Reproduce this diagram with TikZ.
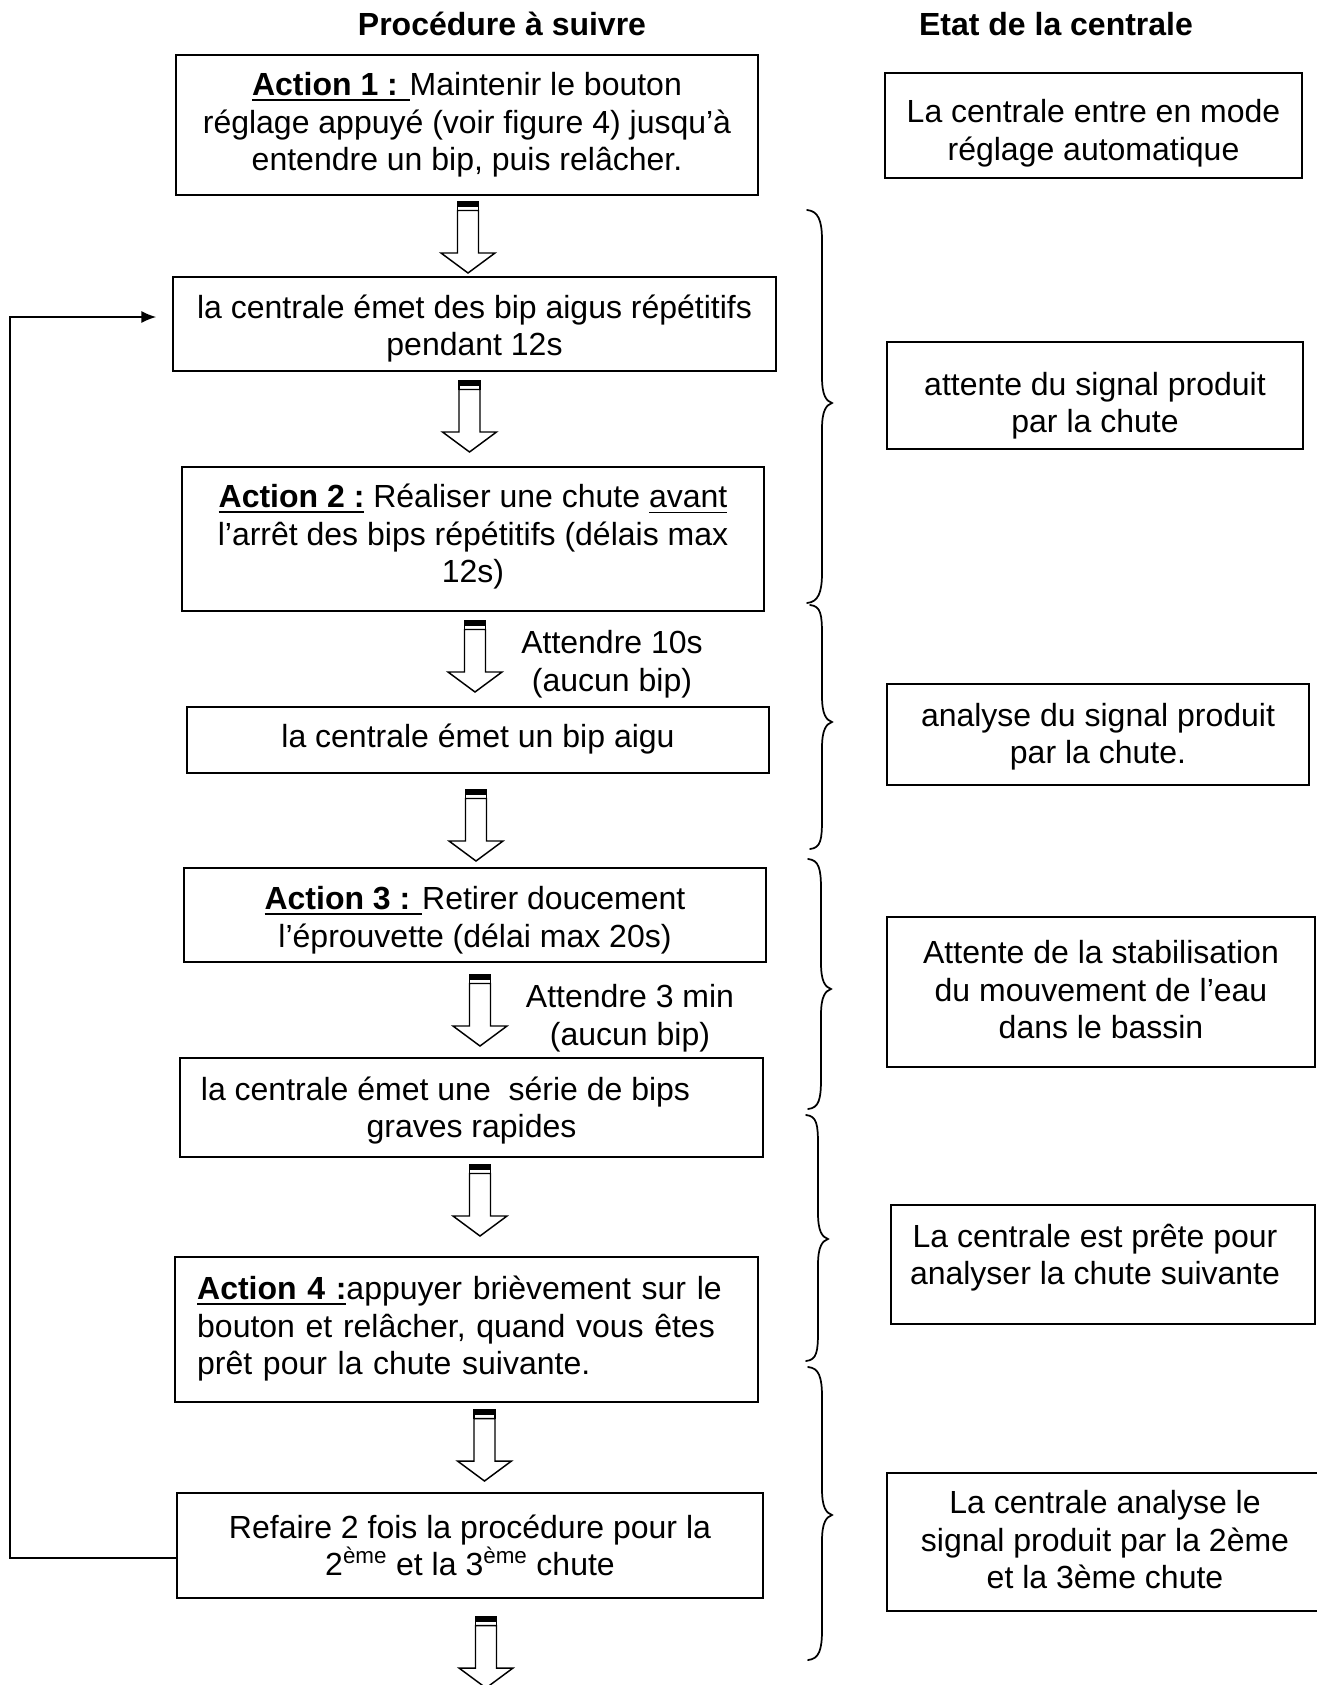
\documentclass[tikz,border=0pt]{standalone}
\usepackage{fontspec}
\setmainfont{Liberation Sans}
\usetikzlibrary{arrows.meta,calc}
\newcommand\myul[2][1.7pt]{\setbox0\hbox{#2}\rlap{\rule[-4.2pt]{\wd0}{#1}}\box0\relax}
\tikzset{
  basefont/.style={font=\fontsize{24}{28.2}\selectfont},
  box/.style={draw, line width=1.3pt, inner sep=0pt, align=center, basefont,
    execute at begin node=\strut, execute at end node=\strut},
  bl/.style={text height=#1, text depth=0pt},
  txt/.style={inner sep=0pt, align=center, basefont,
    execute at begin node=\strut, execute at end node=\strut},
  head/.style={inner sep=0pt, font=\fontsize{24}{28.2}\selectfont\bfseries},
  bracepath/.style={line width=1.3pt, line cap=round},
  looparrow/.style={line width=1.1pt, -{Latex[length=11pt,width=9pt]}},
  pics/blockarrow/.style={code={
    \fill (-10.5,0) rectangle (10.5,4.5);
    \draw[line width=1pt] (-10.5,0) rectangle (10.5,8.5);
    \draw[line width=1.1pt, line join=miter] (-10.5,8.5) -- (-10.5,51) -- (-27,51) -- (0,71)
      -- (27,51) -- (10.5,51) -- (10.5,8.5) -- cycle;
  }}
}
\newcommand\drawbrace[5]{% x0, x1, top, tip, bottom
  \draw[bracepath] (#1,#3) .. controls (#1+11,#3+1) and (#2,#3+10) .. (#2,#3+30)
    -- (#2,#4-26) .. controls (#2,#4-8) and (#2+4,#4-2) .. (#2+10,#4)
    .. controls (#2+4,#4+2) and (#2,#4+8) .. (#2,#4+26)
    -- (#2,#5-30) .. controls (#2,#5-10) and (#1+11,#5-1) .. (#1,#5);}
\begin{document}
\begin{tikzpicture}[x=0.75pt,y=-0.75pt]
\useasboundingbox (0,0) rectangle (1317,1685);
\clip (0,0) rectangle (1317,1685);

% headers
\node[head] (h1) at (502,24) {Procédure à suivre};
\node[head] (h2) at (1056,24) {Etat de la centrale};

% left column
\node[box, bl=68.7pt, minimum width=436.5pt, minimum height=105pt] (b1) at (467,125)
  {\myul{\textbf{Action 1 :} }Maintenir le bouton\\réglage appuyé (voir figure 4) jusqu’à\\entendre un bip, puis relâcher.};
\node[box, bl=47.4pt, minimum width=452.25pt, minimum height=70.5pt] (b2) at (474.5,324)
  {la centrale émet des bip aigus répétitifs\\pendant 12s};
\node[box, minimum width=436.5pt, minimum height=108pt] (b3) at (473,539)
  {\myul{\textbf{Action 2 :}} Réaliser une chute \myul[1.1pt]{avant}\\l’arrêt des bips répétitifs (délais max\\12s)};
\node[box, minimum width=436.5pt, minimum height=49.5pt] (b4) at (478,740)
  {la centrale émet un bip aigu};
\node[box, bl=48.6pt, minimum width=436.5pt, minimum height=70.5pt] (b5) at (475,915)
  {\myul{\textbf{Action 3 :} }Retirer doucement\\l’éprouvette (délai max 20s)};
\node[box, bl=45.2pt, minimum width=437.25pt, minimum height=74.25pt] (b6) at (471.5,1107.5)
  {la centrale émet une \ série de bips\hspace*{39pt}\mbox{}\\graves rapides};
\node[box, minimum width=437.25pt, minimum height=108.75pt, text width=404pt, align=left] (b7) at (466.5,1329.5)
  {\myul{\textbf{Action 4 :}}appuyer brièvement sur le\\bouton et relâcher, quand vous êtes\\prêt pour la chute suivante.};
\node[box, bl=45.6pt, minimum width=439.5pt, minimum height=78.75pt] (b8) at (470,1545.5)
  {Refaire 2 fois la procédure pour la\\2\textsuperscript{ème} et la 3\textsuperscript{ème} chute};

% waiting labels
\node[txt] (t1) at (612,666.4) {Attendre 10s\\(aucun bip)};
\node[txt] (t2) at (630,1020.5) {Attendre 3 min\\(aucun bip)};

% block arrows
\pic at (468,202) {blockarrow};
\pic at (469.5,381) {blockarrow};
\pic at (475,621) {blockarrow};
\pic at (476,790) {blockarrow};
\pic at (480,975) {blockarrow};
\pic at (480,1165) {blockarrow};
\pic at (484.5,1410) {blockarrow};
\pic at (486,1617) {blockarrow};

% loop back
\draw[looparrow] ($(b8.west)+(0,12.5)$) -- ++(-166,0) |- ($(b2.west)+(-16,-7)$);

% right column
\node[box, bl=51.9pt, minimum width=312.75pt, minimum height=78.75pt] (r1) at (1093.5,125.5) {La centrale entre en mode\\réglage automatique};
\node[box, bl=56.1pt, minimum width=312pt, minimum height=80.25pt] (r2) at (1095,395.5) {attente du signal produit\\par la chute};
\node[box, bl=44pt, minimum width=316.5pt, minimum height=75.75pt] (r3) at (1098,734.5) {analyse du signal produit\\par la chute.};
\node[box, bl=70.2pt, minimum width=321pt, minimum height=112.5pt] (r4) at (1101,992) {Attente de la stabilisation\\du mouvement de l’eau\\dans le bassin};
\node[draw, line width=1.3pt, inner sep=0pt, minimum width=318pt, minimum height=89.25pt] (r5) at (1103,1264.5) {};
\node[txt] (r5t) at ($(r5.center)+(-8,-4.5)$) {La centrale est prête pour\\analyser la chute suivante};
\node[box, bl=70pt, minimum width=327pt, minimum height=103.5pt] (r6) at (1105,1542) {La centrale analyse le\\signal produit par la 2ème\\et la 3ème chute};

% braces
\drawbrace{807}{822}{210}{403}{603}
\drawbrace{810}{822}{605}{722}{849}
\drawbrace{808}{821}{859}{989}{1109}
\drawbrace{806}{818}{1115}{1239}{1361}
\drawbrace{808}{822}{1367}{1515}{1660}
\end{tikzpicture}
\end{document}
